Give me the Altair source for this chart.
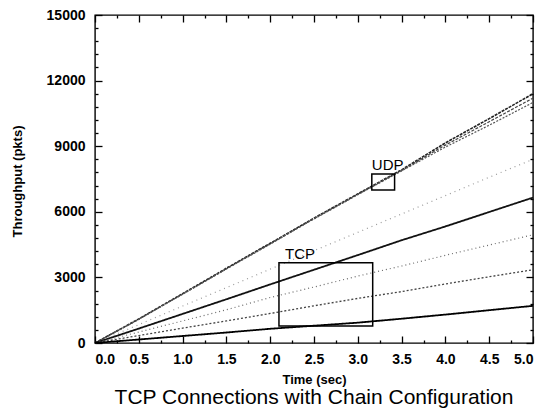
import altair as alt
import pandas as pd

# ---- data ----
time = [0.0, 0.5, 1.0, 1.5, 2.0, 2.5, 3.0, 3.5, 4.0, 4.5, 5.0]

udp_a = [0, 1100, 2260, 3420, 4560, 5710, 6820, 7920, 9150, 10260, 11400]
udp_b = [0, 1090, 2240, 3400, 4540, 5690, 6800, 7890, 9050, 10120, 11200]
udp_c = [0, 1080, 2230, 3380, 4520, 5670, 6780, 7870, 8960, 9960, 11000]
tcp_1 = [0, 840, 1690, 2530, 3380, 4220, 5060, 5900, 6740, 7580, 8400]
tcp_2 = [0, 660, 1330, 2000, 2680, 3350, 4020, 4700, 5330, 5990, 6650]
tcp_3 = [0, 500, 1010, 1520, 2080, 2560, 3060, 3520, 4010, 4480, 4950]
tcp_4 = [0, 340, 680, 1010, 1350, 1700, 2040, 2350, 2700, 3030, 3350]
tcp_5 = [0, 160, 320, 480, 650, 790, 930, 1110, 1300, 1500, 1700]

series_names = ["udp_a", "udp_b", "udp_c", "tcp_1", "tcp_2", "tcp_3", "tcp_4", "tcp_5"]
series_values = [udp_a, udp_b, udp_c, tcp_1, tcp_2, tcp_3, tcp_4, tcp_5]
series_color = ["#222222", "#444444", "#555555", "#9a9a9a", "#111111", "#6a6a6a", "#444444", "#000000"]
series_dash = [[3, 1], [3, 1.5], [2, 1.5], [1, 4], [1, 0], [1, 3], [2, 2], [1, 0]]
series_width = [1.6, 1.2, 1.2, 1.2, 1.8, 1.2, 1.3, 1.8]

x_major = [0.0, 0.5, 1.0, 1.5, 2.0, 2.5, 3.0, 3.5, 4.0, 4.5, 5.0]
x_minor = [0.25, 0.75, 1.25, 1.75, 2.25, 2.75, 3.25, 3.75, 4.25, 4.75]
y_major = [0, 3000, 6000, 9000, 12000, 15000]
y_minor = [600, 1200, 1800, 2400, 3600, 4200, 4800, 5400, 6600, 7200, 7800, 8400,
           9600, 10200, 10800, 11400, 12600, 13200, 13800, 14400]

box_labels = ["UDP", "TCP"]
box_t1 = [3.16, 2.10]
box_t2 = [3.42, 3.17]
box_y1 = [7000, 780]
box_y2 = [7730, 3670]
label_t = [3.16, 2.17]
label_y = [7730, 3670]

# ---- tables ----
rows = []
for name, vals in zip(series_names, series_values):
    for t, v in zip(time, vals):
        rows.append({"series": name, "t": t, "v": v})
df = pd.DataFrame(rows)
boxes = pd.DataFrame({"label": box_labels, "t1": box_t1, "t2": box_t2,
                      "y1": box_y1, "y2": box_y2, "lt": label_t, "ly": label_y})

xs = alt.Scale(domain=[0, 5], nice=False, zero=False)
ys = alt.Scale(domain=[0, 15000], nice=False, zero=False)
FONT = "Liberation Sans"

layers = []

# main label axes (invisible marks)
main = alt.Chart(df).mark_point(opacity=0).encode(
    x=alt.X("t:Q", scale=xs, axis=alt.Axis(
        orient="bottom", values=x_major, format=".1f", ticks=False, domain=False, grid=False,
        labelPadding=9, labelFont=FONT, labelFontSize=14, labelFontWeight="bold",
        labelColor="black", title="Time (sec)", titleFont=FONT, titleFontSize=13,
        titleFontWeight="bold", titleColor="black", titleY=40, titleBaseline="alphabetic")),
    y=alt.Y("v:Q", scale=ys, axis=alt.Axis(
        orient="left", values=y_major, format="d", ticks=False, domain=False, grid=False,
        labelPadding=10, labelFont=FONT, labelFontSize=14, labelFontWeight="bold",
        labelColor="black", title="Throughput (pkts)", titleFont=FONT, titleFontSize=13,
        titleFontWeight="bold", titleColor="black", titleX=-78, titleY=166,
        titleAlign="center", titleBaseline="middle")),
)
layers.append(main)


def tick_layer(xo, yo, xv, yv, size):
    common = dict(labels=False, domain=False, grid=False, title=None,
                  tickSize=size, offset=-size, tickColor="black", tickWidth=1.3)
    return alt.Chart(df).mark_point(opacity=0).encode(
        x=alt.X("t:Q", scale=xs, axis=alt.Axis(orient=xo, values=xv, **common)),
        y=alt.Y("v:Q", scale=ys, axis=alt.Axis(orient=yo, values=yv, **common)),
    )


layers.append(tick_layer("bottom", "left", x_major, y_major, 7))
layers.append(tick_layer("bottom", "left", x_minor, y_minor, 3))
layers.append(tick_layer("top", "right", x_major, y_major, 7))
layers.append(tick_layer("top", "right", x_minor, y_minor, 3))

for name, col, dash, w in zip(series_names, series_color, series_dash, series_width):
    layers.append(
        alt.Chart(df).transform_filter(alt.datum.series == name).mark_line(
            color=col, strokeDash=dash, strokeWidth=w
        ).encode(
            x=alt.X("t:Q", scale=xs, axis=None),
            y=alt.Y("v:Q", scale=ys, axis=None),
        )
    )

rects = alt.Chart(boxes).mark_rect(fillOpacity=0, stroke="black", strokeWidth=1.5).encode(
    x=alt.X("t1:Q", scale=xs, axis=None), x2="t2:Q",
    y=alt.Y("y1:Q", scale=ys, axis=None), y2="y2:Q",
)
texts = alt.Chart(boxes).mark_text(
    align="left", baseline="bottom", dy=-1, font=FONT, fontSize=15, color="black"
).encode(
    x=alt.X("lt:Q", scale=xs, axis=None),
    y=alt.Y("ly:Q", scale=ys, axis=None),
    text="label:N",
)
layers += [rects, texts]

chart = alt.layer(*layers).resolve_axis(x="independent", y="independent").properties(
    width=438, height=328,
    autosize=alt.AutoSizeParams(type="none"),
    padding={"left": 95, "top": 15, "right": 18, "bottom": 67},
    background="white",
    title=alt.TitleParams("TCP Connections with Chain Configuration", orient="bottom",
                          anchor="middle", font=FONT, fontSize=21, fontWeight="normal",
                          color="black", offset=1),
).configure_view(stroke="black", strokeWidth=1.4)

chart.save("out.html", embed_options={"renderer": "svg", "actions": False})
